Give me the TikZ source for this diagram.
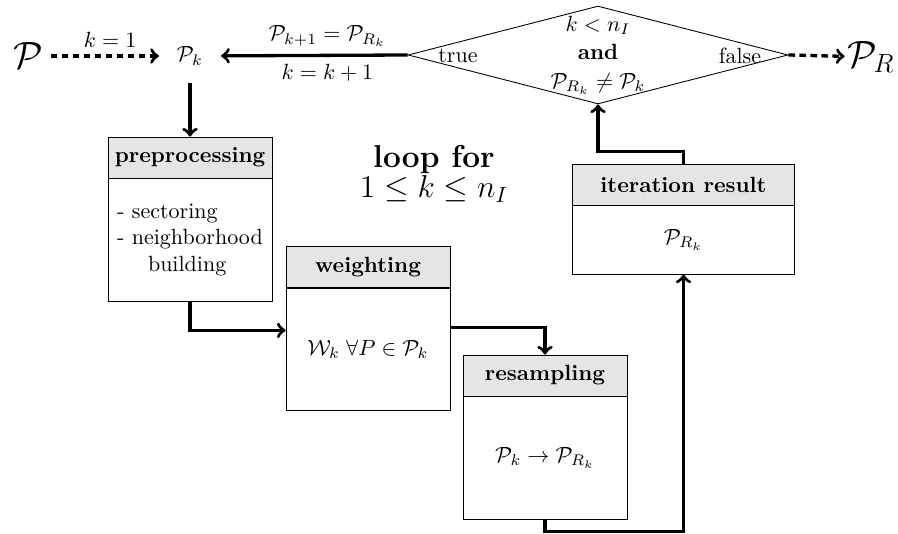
\documentclass[tikz,border=0pt]{standalone}
\usepackage{amsmath,amssymb}
\usetikzlibrary{shapes.geometric,positioning}
\begin{document}
\begin{tikzpicture}[x=0.4545pt,y=-0.4545pt]
		\tikzset{head/.style = {draw,fill=gray!20,minimum width=74.5pt,minimum height=18.6pt,inner sep=0pt,font=\bfseries}}
		\tikzset{body/.style = {draw,minimum width=74.5pt,minimum height=55.5pt,inner sep=0pt,align=left}}
		\tikzset{decision/.style = {shape=diamond,draw,minimum width=172.7pt,minimum height=44.5pt,inner sep=0pt}}
		\tikzset{flow/.style = {->,line width=1.5pt}}
		\tikzset{dflow/.style = {->,line width=1.5pt,densely dashed}}
		\useasboundingbox (0,0) rectangle (898,533);
		% start, current set, end
		\node (p) at (28,56) {\LARGE $\mathcal{P}$};
		\node[inner sep=8pt] (pk) at (190,56) {$\mathcal{P}_k$};
		\node[decision] (test) at (598,55) {};
		\node[align=center] (cond) at (test) {$k<n_I$\\[1pt]\textbf{and}\\[1pt]$\mathcal{P}_{R_k}\neq\mathcal{P}_k$};
		\node (true) at (458,56) {true};
		\node (false) at (740,56) {false};
		\node[inner sep=1pt] (pr) at (871,57) {\LARGE $\mathcal{P}_R$};
		\node[align=center] (loop) at (434,174) {\Large\textbf{loop for}\\\Large$1\le k\le n_I$};
		% steps
		\node[head] (pre-h) at (190,157.5) {preprocessing};
		\node[body,below=0pt of pre-h] (pre-b) {- sectoring\\- neighborhood\\\hspace{1.4em}building};
		\node[head] (wei-h) at (368,267) {weighting};
		\node[body,below=0pt of wei-h] (wei-b) {$\mathcal{W}_k\;\forall P\in\mathcal{P}_k$};
		\node[head] (res-h) at (545,375.5) {resampling};
		\node[body,below=0pt of res-h] (res-b) {$\mathcal{P}_k\rightarrow\mathcal{P}_{R_k}$};
		\node[head,minimum width=101pt] (ite-h) at (683.5,184.5) {iteration result};
		\node[body,minimum width=101pt,minimum height=31pt,below=0pt of ite-h] (ite-b) {$\mathcal{P}_{R_k}$};
		% connectors
		\draw[dflow] (p) -- node[above,pos=0.55] {$k=1$} (pk);
		\draw[flow] (test.west) -- node[above,pos=0.43] {$\mathcal{P}_{k+1}=\mathcal{P}_{R_k}$} node[below,pos=0.43] {$k=k+1$} (pk);
		\draw[dflow] (test.east) -- (pr);
		\draw[flow] (pk) -- (pre-h);
		\draw[flow] (pre-b.south) |- (wei-b.167);
		\draw[flow] (wei-b.15) -| (res-h.north);
		\draw[flow] (res-b.south) -- ++(0,12) -| (ite-b.south);
		\draw[flow] (ite-h.north) -- ++(0,-12) -| (test.south);
	\end{tikzpicture}
\end{document}
